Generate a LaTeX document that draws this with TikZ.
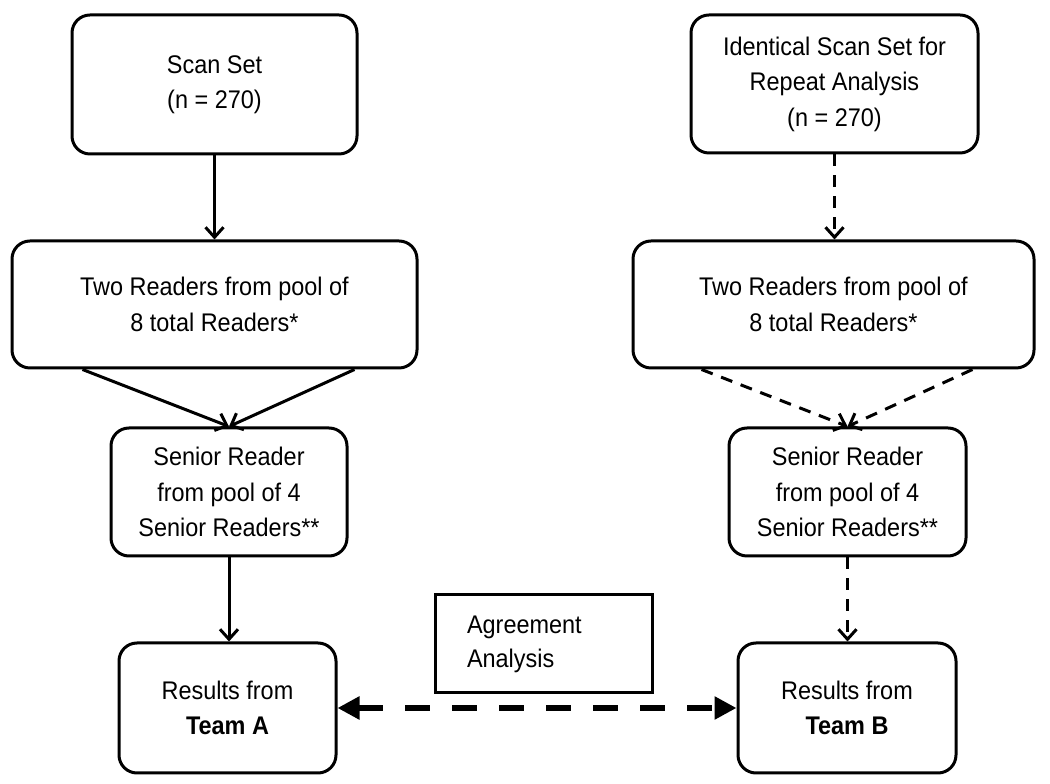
\documentclass[tikz,border=0pt]{standalone}
\usepackage{fontspec}
\setmainfont{Liberation Sans}[FakeStretch=0.92]
\usetikzlibrary{arrows.meta}

\begin{document}
\begin{tikzpicture}[x=1pt, y=1pt,
  flowbox/.style={draw, line width=3pt, rounded corners=18pt, align=center, inner sep=0pt, font=\fontsize{25.5}{35.5}\selectfont},
  notebox/.style={draw, line width=3pt, align=left, inner xsep=32pt, text width=153pt, font=\fontsize{25.5}{34}\selectfont},
  flowarrow/.style={line width=3pt, -{Straight Barb[length=10pt,width=18pt]}},
  repeatarrow/.style={flowarrow, dash pattern=on 12pt off 9pt},
  agreearrow/.style={line width=6pt, dash pattern=on 25pt off 22pt, {Triangle[length=22pt,width=22pt]}-{Triangle[length=22pt,width=22pt]}}]
\useasboundingbox (0,0) rectangle (1050,784);
% team A
\node[flowbox, minimum width=285pt, minimum height=139pt] (scan) at (214.5,699.5) {Scan Set\\(n = 270)};
\node[flowbox, minimum width=405pt, minimum height=127pt] (twoA) at (214.5,479.5) {Two Readers from pool of\\8 total Readers*};
\node[flowbox, minimum width=236pt, minimum height=128pt] (senA) at (229,292) {Senior Reader\\from pool of 4\\Senior Readers**};
\node[flowbox, minimum width=217pt, minimum height=130pt] (resA) at (227.5,76) {Results from\\\textbf{Team A}};
% team B
\node[flowbox, minimum width=287pt, minimum height=138pt] (idscan) at (834.5,700) {Identical Scan Set for\\Repeat Analysis\\(n = 270)};
\node[flowbox, minimum width=401pt, minimum height=127pt] (twoB) at (833.5,479.5) {Two Readers from pool of\\8 total Readers*};
\node[flowbox, minimum width=237pt, minimum height=128pt] (senB) at (847.5,292) {Senior Reader\\from pool of 4\\Senior Readers**};
\node[flowbox, minimum width=218pt, minimum height=130pt] (resB) at (847,76) {Results from\\\textbf{Team B}};
\node[notebox, minimum height=98pt] (agree) at (543.5,140) {Agreement\\Analysis};

\draw[flowarrow] (scan) -- (twoA);
\draw[flowarrow] ([xshift=-132pt]twoA.south) -- (senA.north);
\draw[flowarrow] ([xshift=140pt]twoA.south) -- (senA.north);
\draw[flowarrow] (senA.south) -- (senA.south |- resA.north);

\draw[repeatarrow] (idscan.south) -- (idscan.south |- twoB.north);
\draw[repeatarrow] ([xshift=-132pt]twoB.south) -- (senB.north);
\draw[repeatarrow] ([xshift=139pt]twoB.south) -- (senB.north);
\draw[repeatarrow] (senB.south) -- (senB.south |- resB.north);

\draw[agreearrow] (resA) -- (resB);
\end{tikzpicture}
\end{document}
